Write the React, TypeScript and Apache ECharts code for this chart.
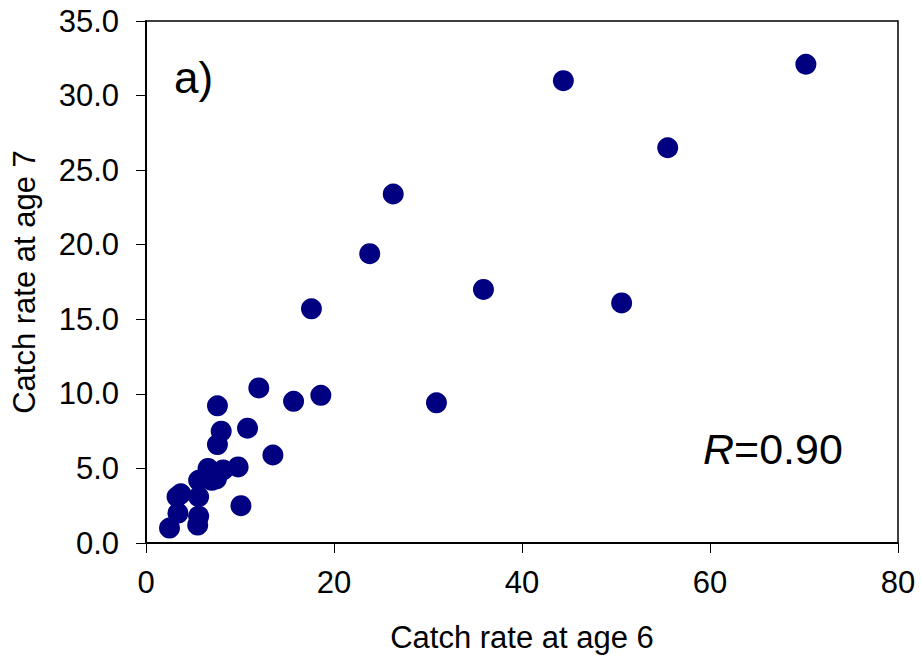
import React, { useEffect, useRef } from "react";
import * as echarts from "echarts";

const xValues = [70.2, 44.4, 55.5, 26.3, 23.8, 17.6, 35.9, 50.6, 30.9, 15.7, 18.6, 12.0, 7.6, 8.0, 10.8, 7.6, 13.5, 9.8, 8.2, 6.6, 7.0, 5.6, 3.3, 3.7, 5.6, 10.1, 2.5, 5.5, 3.4, 5.6, 6.5, 7.5];
const yValues = [32.1, 31.0, 26.5, 23.4, 19.4, 15.7, 17.0, 16.1, 9.4, 9.5, 9.9, 10.4, 9.2, 7.5, 7.7, 6.6, 5.9, 5.1, 4.9, 5.0, 4.2, 4.2, 3.1, 3.3, 3.1, 2.5, 1.0, 1.2, 2.0, 1.8, 4.6, 4.3];
const xTitle = "Catch rate at age 6";
const yTitle = "Catch rate at age 7";
const panelLabel = "a)";

export default function App() {
  const ref = useRef<HTMLDivElement>(null);
  useEffect(() => {
    if (!ref.current) return;
    const chart = echarts.init(ref.current, null, { renderer: "svg" });
    const font = "Liberation Sans, Arial, sans-serif";
    chart.setOption({
      animation: false,
      backgroundColor: "#ffffff",
      grid: { left: 146, top: 21, right: 23, bottom: 122, show: true, borderColor: "#000", borderWidth: 1.5, backgroundColor: "transparent" },
      xAxis: {
        type: "value", min: 0, max: 80, interval: 20,
        name: xTitle, nameLocation: "middle", nameGap: 79,
        nameTextStyle: { fontFamily: font, fontSize: 31, color: "#000" },
        axisLine: { show: true, onZero: false, lineStyle: { color: "#000", width: 2 } },
        axisTick: { show: true, inside: false, length: 10, lineStyle: { color: "#000", width: 1 } },
        axisLabel: { fontFamily: font, fontSize: 31, color: "#000", margin: 24 },
        splitLine: { show: false },
      },
      yAxis: {
        type: "value", min: 0, max: 35, interval: 5,
        name: yTitle, nameLocation: "middle", nameGap: 106,
        nameTextStyle: { fontFamily: font, fontSize: 31, color: "#000" },
        axisLine: { show: true, onZero: false, lineStyle: { color: "#000", width: 2 } },
        axisTick: { show: true, inside: false, length: 10, lineStyle: { color: "#000", width: 1 } },
        axisLabel: { fontFamily: font, fontSize: 31, color: "#000", margin: 27, formatter: (v: number) => v.toFixed(1) },
        splitLine: { show: false },
      },
      series: [
        {
          type: "scatter",
          data: xValues.map((x, i) => [x, yValues[i]]),
          symbol: "circle",
          symbolSize: 21,
          itemStyle: { color: "#000080", opacity: 1 },
        },
      ],
      graphic: [
        { type: "text", left: 174, top: 55, style: { text: panelLabel, fontFamily: font, fontSize: 44, fill: "#000" } },
        {
          type: "text", left: 703, top: 427,
          style: {
            text: "{i|R}{n|=0.90}",
            rich: {
              i: { fontFamily: font, fontSize: 43, fontStyle: "italic", fill: "#000" },
              n: { fontFamily: font, fontSize: 43, fill: "#000" },
            },
          },
        },
      ],
    });
    return () => chart.dispose();
  }, []);
  return <div ref={ref} style={{ width: 921, height: 665, position: "absolute", left: 0, top: 0 }} />;
}
